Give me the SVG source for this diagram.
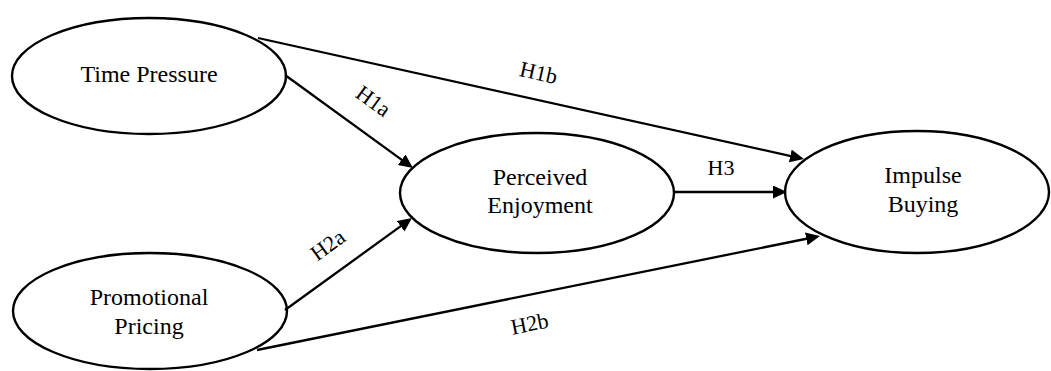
<svg xmlns="http://www.w3.org/2000/svg" width="1051" height="371" viewBox="0 0 1051 371">
<style>
.node{fill:#fff;stroke:#000;stroke-width:2.4}
.t{font-family:'Liberation Serif',Tinos,'Times New Roman',Times,serif;font-size:24px;fill:#000;text-anchor:middle}
.lb{font-family:'Liberation Serif',Tinos,'Times New Roman',Times,serif;font-size:22px;fill:#000;text-anchor:middle}
.c{stroke:#000;stroke-width:2.3;fill:none;marker-end:url(#ah)}
</style>
<defs>
<marker id="ah" markerUnits="userSpaceOnUse" markerWidth="16" markerHeight="14" refX="4" refY="6.5" orient="auto">
<path d="M0,0 L14,6.5 L0,13 z" fill="#000"/>
</marker>
</defs>
<rect width="1051" height="371" fill="#fff"/>
<g id="time-pressure">
<ellipse class="node" cx="149" cy="76" rx="137" ry="58"/>
<text class="t" x="149" y="82">Time Pressure</text>
</g>
<g id="promotional-pricing">
<ellipse class="node" cx="150" cy="311" rx="137" ry="58"/>
<text class="t" x="149" y="305">Promotional</text>
<text class="t" x="149" y="334">Pricing</text>
</g>
<g id="perceived-enjoyment">
<ellipse class="node" cx="537" cy="193" rx="137" ry="60"/>
<text class="t" x="540" y="185">Perceived</text>
<text class="t" x="540" y="213">Enjoyment</text>
</g>
<g id="impulse-buying">
<ellipse class="node" cx="917" cy="192" rx="132" ry="61"/>
<text class="t" x="923" y="183">Impulse</text>
<text class="t" x="923" y="212">Buying</text>
</g>
<g id="connectors">
<line class="c" x1="258" y1="38" x2="794.2" y2="156.8"/>
<line class="c" x1="285" y1="75" x2="404.9" y2="162.1"/>
<line class="c" x1="285" y1="310" x2="403.9" y2="223.9"/>
<line class="c" x1="257" y1="350" x2="810.2" y2="238"/>
<line class="c" x1="675" y1="192" x2="777" y2="192"/>
<text class="lb" transform="translate(537,80) rotate(12.7)">H1b</text>
<text class="lb" transform="translate(369,107) rotate(36)">H1a</text>
<text class="lb" transform="translate(332,251) rotate(-36)">H2a</text>
<text class="lb" transform="translate(531,331) rotate(-11.2)">H2b</text>
<text class="lb" x="721" y="175">H3</text>
</g>
</svg>
